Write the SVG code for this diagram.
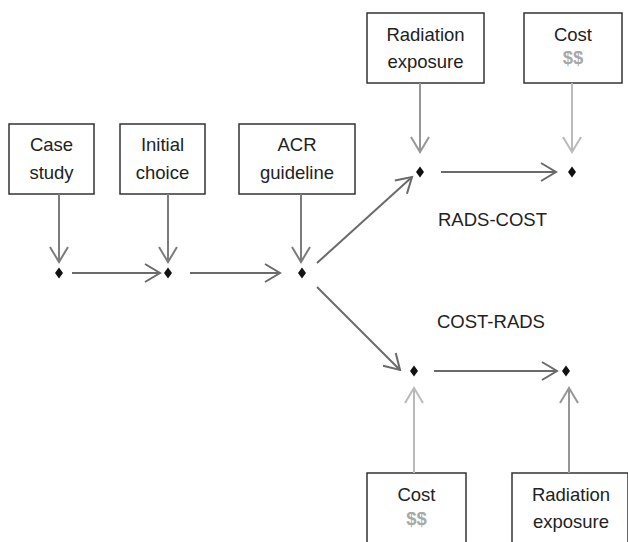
<svg xmlns="http://www.w3.org/2000/svg" width="628" height="542" viewBox="0 0 628 542">
<style>
.box{fill:#fff;stroke:#333;stroke-width:1.5}
.t{font-family:"Liberation Sans",Arial,sans-serif;font-size:18.5px;fill:#222;text-anchor:middle}
.d{font-family:"Liberation Sans",Arial,sans-serif;font-size:18.5px;font-weight:bold;fill:#a8a8a8;text-anchor:middle}
.lbl{font-family:"Liberation Sans",Arial,sans-serif;font-size:18.5px;fill:#222}
.a{fill:none;stroke-width:2}
.dk{stroke:#6a6a6a}
.md{stroke:#7c7c7c}
.rd{stroke:#969696}
.lt{stroke:#bababa}
.dm{fill:#111}
</style>
<defs>
<marker id="mdk" markerUnits="userSpaceOnUse" markerWidth="20" markerHeight="22" refX="0" refY="0" viewBox="-17 -11 19 22" orient="auto"><path d="M-15,-9 L0,0 L-15,9" fill="none" stroke="#6a6a6a" stroke-width="2"/></marker>
<marker id="mmd" markerUnits="userSpaceOnUse" markerWidth="20" markerHeight="22" refX="0" refY="0" viewBox="-17 -11 19 22" orient="auto"><path d="M-15,-9 L0,0 L-15,9" fill="none" stroke="#7c7c7c" stroke-width="2"/></marker>
<marker id="mrd" markerUnits="userSpaceOnUse" markerWidth="20" markerHeight="22" refX="0" refY="0" viewBox="-17 -11 19 22" orient="auto"><path d="M-15,-9 L0,0 L-15,9" fill="none" stroke="#969696" stroke-width="2"/></marker>
<marker id="mlt" markerUnits="userSpaceOnUse" markerWidth="20" markerHeight="22" refX="0" refY="0" viewBox="-17 -11 19 22" orient="auto"><path d="M-15,-9 L0,0 L-15,9" fill="none" stroke="#bababa" stroke-width="2"/></marker>
<path id="dia" d="M0,-5.5 L4,0 L0,5.5 L-4,0 Z"/>
</defs>

<g id="case-study"><rect class="box" x="9" y="124" width="85" height="70"/><text class="t" x="51.5" y="151">Case</text><text class="t" x="51.5" y="179">study</text></g>
<g id="initial-choice"><rect class="box" x="120" y="124" width="85" height="70"/><text class="t" x="162.5" y="151">Initial</text><text class="t" x="162.5" y="179">choice</text></g>
<g id="acr-guideline"><rect class="box" x="239" y="124" width="116" height="70"/><text class="t" x="297" y="151">ACR</text><text class="t" x="297" y="179">guideline</text></g>
<g id="radiation-top"><rect class="box" x="367" y="13" width="117" height="70"/><text class="t" x="425.5" y="41">Radiation</text><text class="t" x="425.5" y="68">exposure</text></g>
<g id="cost-top"><rect class="box" x="524" y="13" width="98" height="70"/><text class="t" x="573" y="41">Cost</text><text class="d" x="573" y="64">$$</text></g>
<g id="cost-bottom"><rect class="box" x="367" y="473" width="99" height="90"/><text class="t" x="416.5" y="501">Cost</text><text class="d" x="416.5" y="525">$$</text></g>
<g id="radiation-bottom"><rect class="box" x="512" y="473" width="116" height="90"/><text class="t" x="571" y="501">Radiation</text><text class="t" x="571" y="528">exposure</text></g>

<g id="d1"><use href="#dia" class="dm" x="59" y="273"/></g>
<g id="d2"><use href="#dia" class="dm" x="168" y="273"/></g>
<g id="d3"><use href="#dia" class="dm" x="302" y="273"/></g>
<g id="d4"><use href="#dia" class="dm" x="420" y="172"/></g>
<g id="d5"><use href="#dia" class="dm" x="572" y="172"/></g>
<g id="d6"><use href="#dia" class="dm" x="414" y="371"/></g>
<g id="d7"><use href="#dia" class="dm" x="566" y="371"/></g>

<g id="label-rads-cost"><text class="lbl" x="438" y="226">RADS-COST</text></g>
<g id="label-cost-rads"><text class="lbl" x="437" y="328">COST-RADS</text></g>

<g id="connectors">
<line class="a md" x1="59" y1="194" x2="59" y2="262" marker-end="url(#mmd)"/>
<line class="a md" x1="168" y1="194" x2="168" y2="262" marker-end="url(#mmd)"/>
<line class="a md" x1="301" y1="194" x2="301" y2="262" marker-end="url(#mmd)"/>
<line class="a dk" x1="72" y1="273" x2="160" y2="273" marker-end="url(#mdk)"/>
<line class="a dk" x1="190" y1="273" x2="280" y2="273" marker-end="url(#mdk)"/>
<line class="a dk" x1="317" y1="263" x2="412" y2="177" marker-end="url(#mdk)"/>
<line class="a dk" x1="317" y1="287" x2="400" y2="370" marker-end="url(#mdk)"/>
<line class="a dk" x1="441" y1="172" x2="556" y2="172" marker-end="url(#mdk)"/>
<line class="a dk" x1="434" y1="371" x2="557" y2="371" marker-end="url(#mdk)"/>
<line class="a rd" x1="420" y1="83" x2="420" y2="152" marker-end="url(#mrd)"/>
<line class="a lt" x1="572" y1="83" x2="572" y2="152" marker-end="url(#mlt)"/>
<line class="a lt" x1="414" y1="473" x2="414" y2="388" marker-end="url(#mlt)"/>
<line class="a rd" x1="569" y1="473" x2="569" y2="388" marker-end="url(#mrd)"/>
</g>
</svg>
